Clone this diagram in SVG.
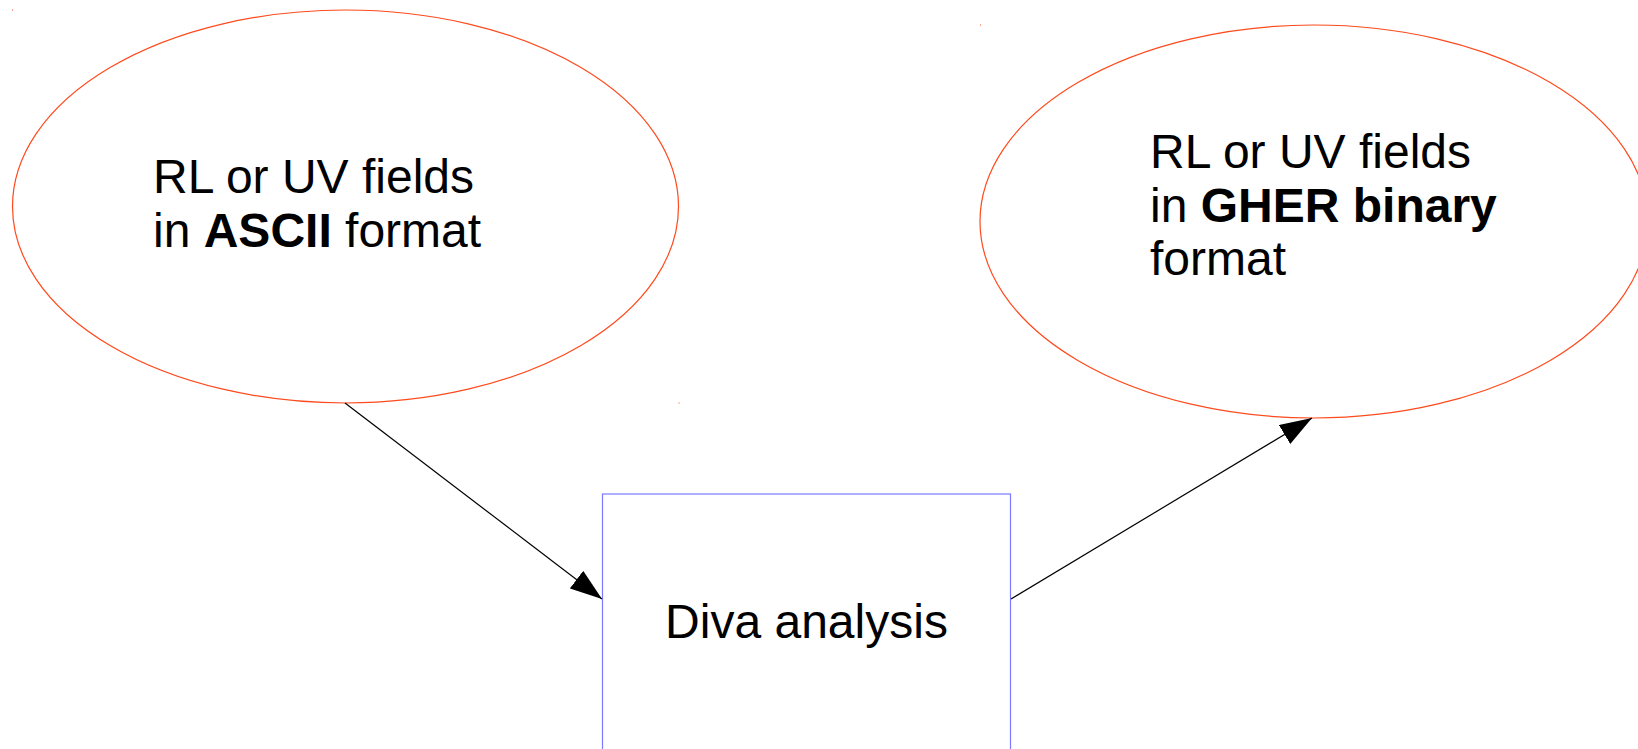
<svg xmlns="http://www.w3.org/2000/svg" width="1638" height="749" viewBox="0 0 1638 749">
<style>
.ell{fill:#ffffff;stroke:#ff4a1c;stroke-width:1.2}
.box{fill:#ffffff;stroke:#7b7bff;stroke-width:1.2}
.lbl{font-family:"Liberation Sans",Arial,sans-serif;font-size:48px;fill:#000000}
.b{font-weight:bold}
.conn{stroke:#000000;stroke-width:1.2;fill:none}
.dot{fill:#ff4a1c}
</style>
<defs>
<marker id="arr" markerUnits="userSpaceOnUse" markerWidth="32" markerHeight="22" refX="32" refY="11" orient="auto" viewBox="0 0 32 22">
<path d="M0,0 L32,11 L0,22 z" fill="#000000"/>
</marker>
</defs>
<rect width="1638" height="749" fill="#ffffff"/>
<g id="node-ascii">
<ellipse class="ell" cx="345.5" cy="206.5" rx="333" ry="196.5"/>
<text class="lbl" x="153" y="193">RL or UV fields</text>
<text class="lbl" x="153" y="247">in <tspan class="b">ASCII</tspan> format</text>
</g>
<g id="node-gher">
<ellipse class="ell" cx="1314" cy="221.5" rx="334" ry="196.5"/>
<text class="lbl" x="1150" y="168">RL or UV fields</text>
<text class="lbl" x="1150" y="222">in <tspan class="b">GHER binary</tspan></text>
<text class="lbl" x="1150" y="275">format</text>
</g>
<g id="node-diva">
<rect class="box" x="602.5" y="494" width="408" height="270"/>
<text class="lbl" x="806.5" y="638" text-anchor="middle">Diva analysis</text>
</g>
<g id="connectors">
<line class="conn" x1="345" y1="403" x2="602" y2="599" marker-end="url(#arr)"/>
<line class="conn" x1="1011" y1="599" x2="1312" y2="418" marker-end="url(#arr)"/>
</g>
<g id="marks">
<rect class="dot" x="12" y="9.5" width="1" height="1"/>
<rect class="dot" x="678.5" y="402.5" width="1" height="1"/>
<rect class="dot" x="980" y="24.5" width="1" height="1"/>
</g>
</svg>
